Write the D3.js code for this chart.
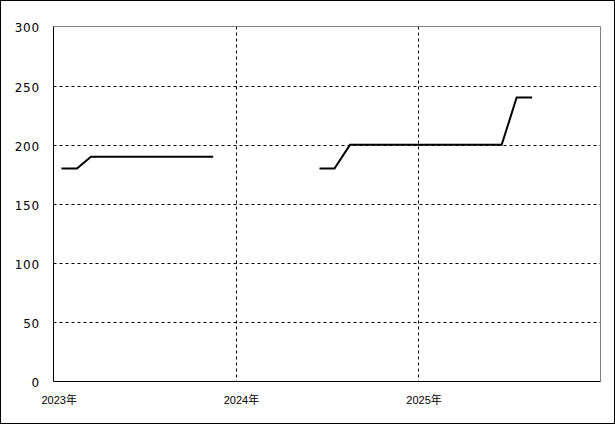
<!DOCTYPE html>
<html><head><meta charset="utf-8">
<script src="https://cdn.jsdelivr.net/npm/d3@7"></script>
<style>
html,body{margin:0;padding:0;background:#fff;}
svg{display:block;}
</style></head>
<body>
<svg id="c" width="615" height="424"></svg>
<script>
const months = ["2023-01","2023-02","2023-03","2023-04","2023-05","2023-06","2023-07","2023-08","2023-09","2023-10","2023-11","2023-12",
"2024-01","2024-02","2024-03","2024-04","2024-05","2024-06","2024-07","2024-08","2024-09","2024-10","2024-11","2024-12",
"2025-01","2025-02","2025-03","2025-04","2025-05","2025-06","2025-07","2025-08"];
const prices = [180,180,190,190,190,190,190,190,190,190,190,null,
null,null,null,null,null,180,180,200,200,200,200,200,
200,200,200,200,200,200,240,240];
const yTicks = [0,50,100,150,200,250,300];
const xTickYears = [2023,2024,2025];
const xTickLabels = ["2023年","2024年","2025年"];

const svg = d3.select("#c");
const L = 53.5, R = 600.5, T = 26.5, B = 381.5;
const x = d3.scaleTime().domain([new Date(2023,0,1), new Date(2026,0,1)]).range([L, R]);
const y = d3.scaleLinear().domain([0,300]).range([B, T]);

// outer border
svg.append("rect").attr("x",0.5).attr("y",0.5).attr("width",614).attr("height",423)
  .attr("fill","#fff").attr("stroke","#000");

// horizontal grid
svg.append("g").selectAll("line").data(yTicks.filter(v => v>0 && v<300)).join("line")
  .attr("x1",L).attr("x2",R).attr("y1",d=>Math.round(y(d))+0.5).attr("y2",d=>Math.round(y(d))+0.5)
  .attr("stroke","#000").attr("stroke-dasharray","3,3");
// vertical grid
svg.append("g").selectAll("line").data(xTickYears.slice(1)).join("line")
  .attr("x1",d=>Math.round(x(new Date(d,0,1)))+0.5).attr("x2",d=>Math.round(x(new Date(d,0,1)))+0.5)
  .attr("y1",T).attr("y2",B)
  .attr("stroke","#000").attr("stroke-dasharray","3,3");

// frame: top/right gray, left/bottom black
svg.append("line").attr("x1",L).attr("x2",R).attr("y1",T).attr("y2",T).attr("stroke","#808080");
svg.append("line").attr("x1",R).attr("x2",R).attr("y1",T).attr("y2",B).attr("stroke","#808080");
svg.append("line").attr("x1",L).attr("x2",L).attr("y1",T).attr("y2",B).attr("stroke","#000");
svg.append("line").attr("x1",L).attr("x2",R).attr("y1",B).attr("y2",B).attr("stroke","#000");

// y axis labels
const yAxis = d3.axisLeft(y).tickValues(yTicks).tickSize(0).tickPadding(0).tickFormat(d3.format("d"));
const gy = svg.append("g").attr("transform","translate(40,0)").call(yAxis);
gy.select(".domain").remove();
gy.selectAll("text").attr("font-family","DejaVu Sans, sans-serif").attr("font-size","12px")
  .attr("letter-spacing","0.8px").attr("fill","#000").attr("dy","0.45em").attr("x",0);

// x axis labels
const xAxis = d3.axisBottom(x).tickValues(xTickYears.map(yr => new Date(yr,0,1))).tickSize(0).tickPadding(0)
  .tickFormat((d,i) => xTickLabels[i]);
const gx = svg.append("g").attr("transform","translate(0,404)").call(xAxis);
gx.select(".domain").remove();
gx.selectAll("text").attr("font-family","Liberation Sans, 'Noto Sans CJK JP', sans-serif").attr("font-size","11px")
  .attr("fill","#000").attr("text-anchor","start").attr("x",-12.5).attr("dy","0");

// line
const data = months.map((m,i) => {
  const [yr, mo] = m.split("-").map(Number);
  return {date: new Date(yr, mo-1, 17), v: prices[i]};
});
const line = d3.line().defined(d => d.v != null).x(d => x(d.date)).y(d => y(d.v));
svg.append("path").datum(data).attr("d", line).attr("fill","none").attr("stroke","#000").attr("stroke-width",2);
</script>
</body></html>
